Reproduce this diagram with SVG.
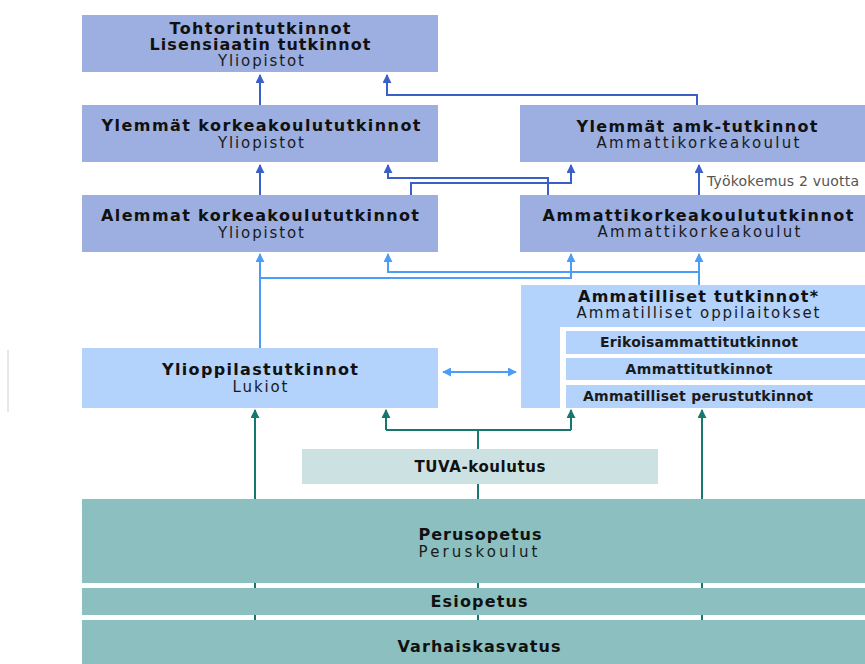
<svg xmlns="http://www.w3.org/2000/svg" width="865" height="664" viewBox="0 0 865 664">
<style>
.dk{fill:#9cafe0}
.lt{fill:#b3d2fc}
.tl{fill:#8cbfbf}
.tv{fill:#cce1e1}
text{font-family:"DejaVu Sans","Verdana",sans-serif;text-anchor:middle}
.b{font-weight:bold;font-size:16px;fill:#111}
.r{font-size:15px;fill:#1a1a1a}
.s{font-weight:bold;font-size:14px;fill:#1a1a1a}
.n{font-size:14px;fill:#555;text-anchor:start}
.cd{fill:none;stroke:#3a5fc8;stroke-width:2}
.cl{fill:none;stroke:#4b9cf6;stroke-width:2}
.ct{fill:none;stroke:#17776f;stroke-width:2}
</style>
<defs>
<marker id="ad" viewBox="0 0 10 10" refX="9" refY="5" markerWidth="9" markerHeight="9" markerUnits="userSpaceOnUse" orient="auto"><path d="M0,0 L10,5 L0,10 z" fill="#3a5fc8"/></marker>
<marker id="al" viewBox="0 0 10 10" refX="9" refY="5" markerWidth="9" markerHeight="9" markerUnits="userSpaceOnUse" orient="auto-start-reverse"><path d="M0,0 L10,5 L0,10 z" fill="#4b9cf6"/></marker>
<marker id="at" viewBox="0 0 10 10" refX="9" refY="5" markerWidth="9" markerHeight="9" markerUnits="userSpaceOnUse" orient="auto"><path d="M0,0 L10,5 L0,10 z" fill="#17776f"/></marker>
</defs>
<rect width="865" height="664" fill="#fff"/>
<line x1="8" y1="350" x2="8" y2="412" stroke="#d0d0d0" stroke-width="1"/>

<g id="connectors">
  <path class="cd" d="M260,105 V75" marker-end="url(#ad)"/>
  <path class="cd" d="M697,105 V95 H387 V75" marker-end="url(#ad)"/>
  <path class="cd" d="M260,195 V165" marker-end="url(#ad)"/>
  <path class="cd" d="M548,195 V178 H388 V165" marker-end="url(#ad)"/>
  <path class="cd" d="M411,195 V183 H571 V165" marker-end="url(#ad)"/>
  <path class="cd" d="M699,195 V165" marker-end="url(#ad)"/>
  <path class="cl" d="M260,348 V254" marker-end="url(#al)"/>
  <path class="cl" d="M260,278 H571 V254" marker-end="url(#al)"/>
  <path class="cl" d="M699,285 V254" marker-end="url(#al)"/>
  <path class="cl" d="M699,272 H388 V254" marker-end="url(#al)"/>
  <path class="cl" d="M443,372 H516" marker-start="url(#al)" marker-end="url(#al)"/>
  <path class="ct" d="M255,622 V410" marker-end="url(#at)"/>
  <path class="ct" d="M702,622 V410" marker-end="url(#at)"/>
  <path class="ct" d="M478,622 V430"/>
  <path class="ct" d="M386,430 H571"/>
  <path class="ct" d="M386,430 V410" marker-end="url(#at)"/>
  <path class="ct" d="M571,430 V410" marker-end="url(#at)"/>
</g>

<g id="tohtori">
  <rect class="dk" x="82" y="15" width="356" height="57"/>
  <text class="b" x="260" y="34" textLength="181" lengthAdjust="spacing">Tohtorintutkinnot</text>
  <text class="b" x="260" y="50" textLength="221" lengthAdjust="spacing">Lisensiaatin tutkinnot</text>
  <text class="r" x="261" y="66" textLength="86" lengthAdjust="spacing">Yliopistot</text>
</g>
<g id="ylemmat-kk">
  <rect class="dk" x="82" y="105" width="356" height="57"/>
  <text class="b" x="261" y="131" textLength="319" lengthAdjust="spacing">Ylemmät korkeakoulututkinnot</text>
  <text class="r" x="261" y="148" textLength="86" lengthAdjust="spacing">Yliopistot</text>
</g>
<g id="ylemmat-amk">
  <rect class="dk" x="520" y="105" width="345" height="57"/>
  <text class="b" x="697" y="132" textLength="241" lengthAdjust="spacing">Ylemmät amk-tutkinnot</text>
  <text class="r" x="698" y="148" textLength="203" lengthAdjust="spacing">Ammattikorkeakoulut</text>
</g>
<text class="n" x="707" y="186" textLength="152" lengthAdjust="spacing">Työkokemus 2 vuotta</text>
<g id="alemmat-kk">
  <rect class="dk" x="82" y="195" width="356" height="57"/>
  <text class="b" x="260" y="221" textLength="318" lengthAdjust="spacing">Alemmat korkeakoulututkinnot</text>
  <text class="r" x="261" y="238" textLength="86" lengthAdjust="spacing">Yliopistot</text>
</g>
<g id="amk">
  <rect class="dk" x="520" y="195" width="345" height="57"/>
  <text class="b" x="698" y="221" textLength="311" lengthAdjust="spacing">Ammattikorkeakoulututkinnot</text>
  <text class="r" x="699" y="237" textLength="203" lengthAdjust="spacing">Ammattikorkeakoulut</text>
</g>
<g id="ammatilliset">
  <rect class="lt" x="521" y="285" width="344" height="123"/>
  <rect fill="#fff" x="560" y="327" width="305" height="81"/>
  <text class="b" x="698" y="302" textLength="240" lengthAdjust="spacing">Ammatilliset tutkinnot*</text>
  <text class="r" x="698" y="318" textLength="243" lengthAdjust="spacing">Ammatilliset oppilaitokset</text>
  <g id="erikoisammatti">
    <rect class="lt" x="566" y="331" width="299" height="23"/>
    <text class="s" x="699" y="347" textLength="198" lengthAdjust="spacing">Erikoisammattitutkinnot</text>
  </g>
  <g id="ammattitutkinnot">
    <rect class="lt" x="566" y="358" width="299" height="22"/>
    <text class="s" x="699" y="374" textLength="147" lengthAdjust="spacing">Ammattitutkinnot</text>
  </g>
  <g id="perustutkinnot">
    <rect class="lt" x="566" y="385" width="299" height="23"/>
    <text class="s" x="698" y="401" textLength="230" lengthAdjust="spacing">Ammatilliset perustutkinnot</text>
  </g>
</g>
<g id="ylioppilas">
  <rect class="lt" x="82" y="348" width="356" height="60"/>
  <text class="b" x="260" y="375" textLength="196" lengthAdjust="spacing">Ylioppilastutkinnot</text>
  <text class="r" x="260" y="392" textLength="55" lengthAdjust="spacing">Lukiot</text>
</g>
<g id="tuva">
  <rect class="tv" x="302" y="449" width="356" height="35"/>
  <text class="b" x="480" y="472" style="font-size:15px" textLength="131" lengthAdjust="spacing">TUVA-koulutus</text>
</g>
<g id="perusopetus">
  <rect class="tl" x="82" y="499" width="783" height="84"/>
  <text class="b" x="480" y="540" textLength="123" lengthAdjust="spacing">Perusopetus</text>
  <text class="r" x="478" y="557" textLength="119" lengthAdjust="spacing">Peruskoulut</text>
</g>
<g id="esiopetus">
  <rect class="tl" x="82" y="588" width="783" height="27"/>
  <text class="b" x="479" y="607" textLength="97" lengthAdjust="spacing">Esiopetus</text>
</g>
<g id="varhaiskasvatus">
  <rect class="tl" x="82" y="620" width="783" height="44"/>
  <text class="b" x="479" y="652" textLength="163" lengthAdjust="spacing">Varhaiskasvatus</text>
</g>
</svg>
